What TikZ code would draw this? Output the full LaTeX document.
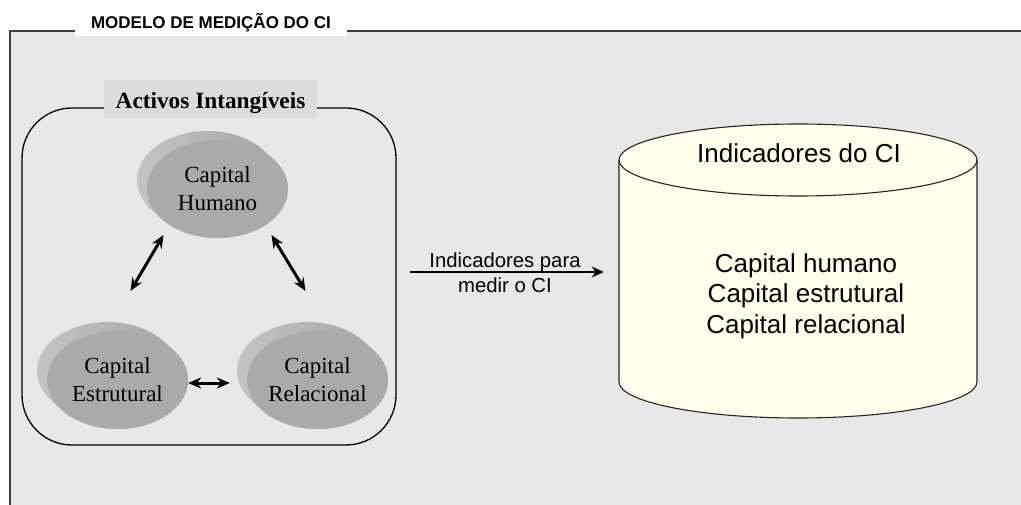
\documentclass[tikz,border=0pt]{standalone}
\usepackage{fontspec}
\setmainfont{Liberation Serif}
\setsansfont{Liberation Sans}
\usetikzlibrary{shapes.geometric,arrows.meta}

\definecolor{panel}{HTML}{E8E8E8}
\definecolor{labelbg}{HTML}{DCDCDC}
\definecolor{framec}{HTML}{3C3C3C}
\definecolor{cylfill}{HTML}{FFFFEB}
\definecolor{diskfront}{HTML}{AAAAAA}
\definecolor{diskhi}{HTML}{C6C6C6}
\definecolor{disklo}{HTML}{A0A0A0}

\tikzset{
  frameline/.style={draw=framec, line width=2pt},
  titlebox/.style={fill=white, anchor=base, minimum width=272pt, inner xsep=0pt, inner ysep=3pt,
    font=\sffamily\bfseries\fontsize{17}{19}\selectfont},
  groupbox/.style={draw=black, line width=1.3pt, rounded corners=50pt, inner sep=0pt},
  grouplabel/.style={fill=labelbg, anchor=base, minimum width=213pt, inner xsep=0pt,
    inner ysep=4pt, text height=25pt, text depth=5pt,
    font=\rmfamily\bfseries\fontsize{23.3}{28}\selectfont},
  diskside/.style={left color=diskhi, right color=disklo},
  disk/.style={ellipse, fill=diskfront, minimum width=141pt, minimum height=98pt, inner sep=0pt,
    align=center, font=\rmfamily\fontsize{23}{28}\selectfont},
  twoway/.style={{Stealth[length=13pt,width=11pt]}-{Stealth[length=13pt,width=11pt]}, line width=3pt},
  oneway/.style={-{Stealth[length=12pt,width=11pt]}, line width=2.2pt},
  arrowtext/.style={anchor=base, inner sep=0pt, font=\sffamily\fontsize{20.3}{24}\selectfont},
  cylline/.style={draw=black!85, line width=1.1pt},
  cyltext/.style={align=center, inner sep=0pt, font=\sffamily\fontsize{26}{30.5}\selectfont},
}

% a raised disk: the side is the ellipse swept up-left by (10,9),
% bounded by the back arc, two tangent lines and the front arc;
% the flat front face carries the text
\newcommand\capdisk[4]{%
  \begin{scope}[shift={(#2,#3)}, x=1pt, y=1pt]
    \shade[diskside] ({-10+70.5*cos(37.7)},{9+49*sin(37.7)})
      arc [start angle=37.7, end angle=217.7, x radius=70.5, y radius=49]
      -- ++(10,-9)
      arc [start angle=217.7, end angle=397.7, x radius=70.5, y radius=49]
      -- cycle;
  \end{scope}
  \node[disk] (#1) at (#2,#3) {#4};}

\begin{document}
\begin{tikzpicture}[x=1pt,y=-1pt]
\useasboundingbox (0,0) rectangle (1021,505);

% outer panel and its frame
\fill[panel] (10,31) rectangle (1021,505);
\draw[frameline] (10,505) -- (10,31) -- (1021,31);
\node[titlebox] (title) at (211,29) {MODELO DE MEDIÇÃO DO CI};

% group of intangible assets
\node[groupbox, minimum width=374pt, minimum height=337pt] (group) at (209,276.5) {};
\node[grouplabel] (glabel) at (210.5,109) {Activos Intangíveis};

\capdisk{hum}{217.5}{189}{Capital\\Humano}
\capdisk{est}{117.5}{380}{Capital\\Estrutural}
\capdisk{rel}{317.5}{380}{Capital\\Relacional}

\draw[twoway] ([xshift=-54pt,yshift=-46pt]hum.center) -- ([xshift=13pt,yshift=89pt]est.center);
\draw[twoway] ([xshift=54pt,yshift=-46pt]hum.center) -- ([xshift=-12pt,yshift=89pt]rel.center);
\draw[twoway] ([yshift=-3pt]est.east) -- ([xshift=-17pt,yshift=-3pt]rel.west);

% indicator store
\fill[cylfill] (619,160) -- (619,382) arc [start angle=180, end angle=360, x radius=179pt, y radius=36pt]
  -- (977,160) arc [start angle=0, end angle=180, x radius=179pt, y radius=36pt] -- cycle;
\draw[cylline] (619,160) -- (619,382) arc [start angle=180, end angle=360, x radius=179pt, y radius=36pt]
  -- (977,160);
\draw[cylline] (798,160) ellipse [x radius=179pt, y radius=36pt];
\node[inner sep=0pt, minimum width=358pt, minimum height=222pt] (cyl) at (798,271) {};
\node[anchor=base, inner sep=0pt, font=\sffamily\fontsize{26}{30}\selectfont] (cyltitle) at (799,163) {Indicadores do CI};
\node[cyltext] (cyllist) at (806,296) {Capital humano\\Capital estrutural\\Capital relacional};

% measuring arrow
\coordinate (src) at (410,272);
\draw[oneway] (src) -- ([xshift=-15pt,yshift=-1pt]cyl.west);
\node[arrowtext] (lab1) at (505,268) {Indicadores para};
\node[arrowtext] (lab2) at (505,293) {medir o CI};
\end{tikzpicture}
\end{document}
